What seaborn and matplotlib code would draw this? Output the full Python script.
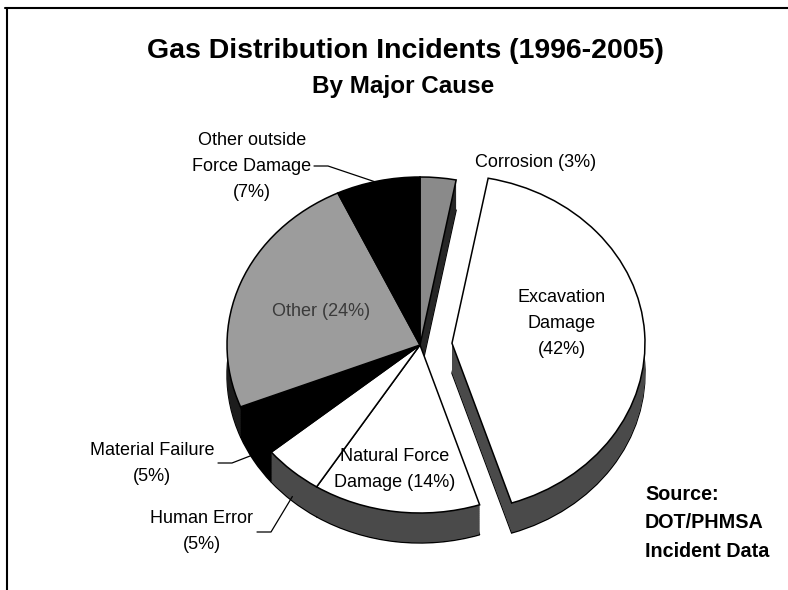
import numpy as np
import matplotlib
matplotlib.use("Agg")
import matplotlib.pyplot as plt
import seaborn as sns
from matplotlib.lines import Line2D

# data: share of incidents by major cause, clockwise from 12 o'clock
causes = ["Corrosion", "Excavation Damage", "Natural Force Damage", "Human Error",
          "Material Failure", "Other", "Other outside Force Damage"]
shares = [3, 42, 14, 5, 5, 24, 7]
label_text = ["Corrosion (3%)", "Excavation\nDamage\n(42%)", "Natural Force\nDamage (14%)",
              "Human Error\n(5%)", "Material Failure\n(5%)", "Other (24%)",
              "Other outside\nForce Damage\n(7%)"]
top_colors = ["#8a8a8a", "white", "white", "white", "black", "#9c9c9c", "black"]
side_colors = ["#262626", "#4a4a4a", "#4a4a4a", "#4a4a4a", "black", "#1c1c1c", "black"]
explode_frac = [0, 0.166, 0, 0, 0, 0, 0]

sns.set_theme(style="white")
plt.rcParams["font.family"] = ["Liberation Sans", "DejaVu Sans"]
plt.rcParams["text.color"] = "black"

W, H = 788, 590
fig = plt.figure(figsize=(W / 100, H / 100), dpi=100)
fig.patch.set_facecolor("white")
ax = fig.add_axes([0, 0, 1, 1])

# the pie is seen at a tilt: squash the vertical scale
yscale = 168 / 193
def to_data(px, py):
    return px, (H - py) / yscale

cx, cy = to_data(420, 345)
r = 193
depth = 30 / yscale
explode = [e * r for e in explode_frac]  # pie offsets are in data units

# side walls: stack of darker pies, bottom to top
for k, off in enumerate(np.linspace(depth, 0.5, 45)):
    wedges, _ = ax.pie(shares, radius=r, center=(cx, cy - off), colors=side_colors,
                       explode=explode, startangle=90, counterclock=False,
                       wedgeprops=dict(linewidth=0))
    if k == 0:
        for w in wedges:
            w.set_edgecolor("black")
            w.set_linewidth(1.0)

# top face
wedges, _ = ax.pie(shares, radius=r, center=(cx, cy), colors=top_colors,
                   explode=explode, startangle=90, counterclock=False,
                   wedgeprops=dict(linewidth=1.1, edgecolor="black"))

ax.set_aspect("auto")
ax.set_xlim(0, W)
ax.set_ylim(0, H / yscale)
ax.axis("off")

def fx(px):
    return px / W

def fy(py):
    return 1 - py / H

# labels (pixel positions of first baseline)
label_pos = {
    "Corrosion": (475, 167, "left"),
    "Excavation Damage": (562, 302, "center"),
    "Natural Force Damage": (395, 461, "center"),
    "Human Error": (202, 523, "center"),
    "Material Failure": (152, 455, "center"),
    "Other": (321, 316, "center"),
    "Other outside Force Damage": (252, 145, "center"),
}
for name, txt in zip(causes, label_text):
    x, y, ha = label_pos[name]
    color = "#3a3a3a" if name == "Other" else "black"
    for i, line in enumerate(txt.split("\n")):
        fig.text(fx(x), fy(y + i * 26), line, ha=ha, va="baseline",
                 fontsize=13, color=color)

# leader lines to their slices
def leader(name, start, drop):
    w = wedges[causes.index(name)]
    mid = np.deg2rad((w.theta1 + w.theta2) / 2)
    ex = w.center[0] + r * np.cos(mid)
    ey = w.center[1] + r * np.sin(mid) - drop
    sx, sy = to_data(*start)
    xs = [sx, sx + 14, ex]
    ys = [sy, sy, ey]
    ax.plot(xs, ys, color="black", lw=0.9)

leader("Other outside Force Damage", (314, 166), 2)
leader("Material Failure", (218, 463), depth * 0.8)
leader("Human Error", (257, 532), depth * 0.85)

# titles
fig.text(fx(405), fy(58), "Gas Distribution Incidents (1996-2005)", ha="center",
         va="baseline", fontsize=20.5, fontweight="bold", color="black")
fig.text(fx(403), fy(93), "By Major Cause", ha="center", va="baseline",
         fontsize=17.5, fontweight="bold", color="black")

for i, line in enumerate(["Source:", "DOT/PHMSA", "Incident Data"]):
    fig.text(fx(645), fy(500 + i * 28.5), line, ha="left", va="baseline",
             fontsize=14.2, fontweight="bold", color="black")

# frame of the scanned slide
fig.add_artist(Line2D([fx(5), 1], [fy(8), fy(8)], color="black", lw=1.5))
fig.add_artist(Line2D([fx(7), fx(7)], [fy(8), 0], color="black", lw=1.5))

fig.savefig("out.png", dpi=100)
